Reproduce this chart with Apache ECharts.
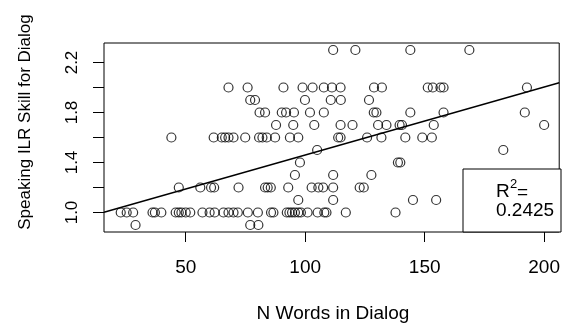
<!DOCTYPE html>
<html lang="en">
<head>
    <meta charset="UTF-8">
    <title>Speaking ILR Skill vs N Words</title>
    <script src="https://cdn.jsdelivr.net/npm/echarts@6/dist/echarts.min.js"></script>
    <style>
        html, body { margin: 0; padding: 0; background: #fff; }
        #chart { width: 563px; height: 323px; }
    </style>
</head>
<body>
    <div id="chart"></div>
    <script>
        // N words in dialog, grouped by the ILR skill rating they got
        var words09 = [29.0, 77.0, 80.4];
        var words10 = [22.8, 25.3, 28.0, 36.1, 37.1, 39.8, 45.8, 47.1, 48.2, 50.0, 51.9, 57.0, 60.0, 62.1, 65.8, 67.9, 70.0, 71.8, 76.0, 80.2, 85.7, 86.7, 92.3, 93.4, 94.5, 95.7, 97.1, 98.2, 101.0, 105.2, 108.0, 108.9, 117.0, 137.8];
        var words11 = [97.1, 111.7, 145.1, 154.8];
        var words12 = [47.1, 56.1, 60.6, 61.9, 72.1, 83.2, 84.3, 85.6, 92.9, 102.7, 105.5, 107.5, 111.7, 122.8, 124.5];
        var words13 = [95.7, 111.7, 127.7];
        var words14 = [97.8, 138.8, 139.8];
        var words15 = [105.0, 182.9];
        var words16 = [44.0, 61.7, 65.1, 66.5, 67.9, 70.0, 74.9, 80.7, 82.1, 83.9, 87.4, 93.6, 97.1, 113.8, 114.8, 125.9, 131.9, 141.9, 149.0, 153.0];
        var words17 = [87.8, 95.0, 103.8, 114.8, 119.8, 130.5, 134.0, 139.5, 140.5, 153.8, 200.0];
        var words18 = [80.9, 83.2, 90.2, 92.0, 95.3, 102.0, 107.8, 128.7, 129.8, 144.0, 157.9, 191.9];
        var words19 = [77.0, 79.0, 99.9, 110.7, 114.9, 126.7];
        var words20 = [67.9, 75.9, 90.9, 98.9, 103.1, 107.8, 111.2, 114.8, 128.8, 132.1, 151.3, 153.4, 156.6, 157.9, 192.8];
        var words23 = [111.7, 121.0, 144.0, 168.7];

        var skillLevels = [0.9, 1.0, 1.1, 1.2, 1.3, 1.4, 1.5, 1.6, 1.7, 1.8, 1.9, 2.0, 2.3];
        var wordGroups = [words09, words10, words11, words12, words13, words14, words15, words16, words17, words18, words19, words20, words23];

        // fitted line, read at the plot edges
        var fitX = [15.8, 206.3];
        var fitY = [1.002, 2.038];

        var xTicks = [50, 100, 150, 200];
        var yTicks = [1.0, 1.2, 1.4, 1.6, 1.8, 2.0, 2.2];
        var yLabels = [1.0, 1.4, 1.8, 2.2];
        var rSquared = '0.2425';

        var points = [];
        skillLevels.forEach(function (lvl, i) {
            wordGroups[i].forEach(function (w) { points.push([w, lvl]); });
        });

        var font = "'Liberation Sans', Arial, sans-serif";
        var chart = echarts.init(document.getElementById('chart'));
        chart.setOption({
            backgroundColor: '#fff',
            animation: false,
            grid: {
                left: 104, top: 43, right: 2, bottom: 91,
                show: true, borderColor: '#000', borderWidth: 1
            },
            xAxis: {
                type: 'value', min: 15.8, max: 206.3,
                splitLine: { show: false },
                axisLine: { show: false },
                axisTick: { show: true, length: 10, customValues: xTicks, lineStyle: { color: '#000', width: 1 } },
                axisLabel: { customValues: xTicks, margin: 26, fontSize: 19, color: '#000', fontFamily: font }
            },
            yAxis: {
                type: 'value', min: 0.844, max: 2.356,
                splitLine: { show: false },
                axisLine: { show: false },
                axisTick: { show: true, length: 11, customValues: yTicks, lineStyle: { color: '#000', width: 1 } },
                axisLabel: {
                    customValues: yLabels, rotate: 90, margin: 23, fontSize: 17, color: '#000', fontFamily: font,
                    formatter: function (v) { return v.toFixed(1); }
                }
            },
            series: [{
                type: 'scatter',
                data: points,
                symbol: 'circle',
                symbolSize: 9,
                itemStyle: { color: 'transparent', borderColor: '#000', borderWidth: 1.2 }
            }, {
                type: 'line',
                data: [[fitX[0], fitY[0]], [fitX[1], fitY[1]]],
                symbol: 'none',
                lineStyle: { color: '#000', width: 1.3 }
            }],
            graphic: [
                { type: 'rect', shape: { x: 463, y: 169, width: 98, height: 63 },
                  style: { fill: '#fff', stroke: '#000', lineWidth: 1 } },
                { type: 'text', x: 496, y: 192, style: { text: 'R', font: '19px ' + font, fill: '#000', textVerticalAlign: 'middle' } },
                { type: 'text', x: 510, y: 184, style: { text: '2', font: '13px ' + font, fill: '#000', textVerticalAlign: 'middle' } },
                { type: 'text', x: 517, y: 193, style: { text: '=', font: '19px ' + font, fill: '#000', textVerticalAlign: 'middle' } },
                { type: 'text', x: 496, y: 211, style: { text: rSquared, font: '19px ' + font, fill: '#000', textVerticalAlign: 'middle' } },
                { type: 'text', x: 333, y: 314, style: { text: 'N Words in Dialog', font: '19px ' + font, fill: '#000', textAlign: 'center', textVerticalAlign: 'middle' } },
                { type: 'text', x: 25, y: 122, rotation: Math.PI / 2,
                  style: { text: 'Speaking ILR Skill for Dialog', font: '17px ' + font, fill: '#000', textAlign: 'center', textVerticalAlign: 'middle' } }
            ]
        });
    </script>
</body>
</html>
